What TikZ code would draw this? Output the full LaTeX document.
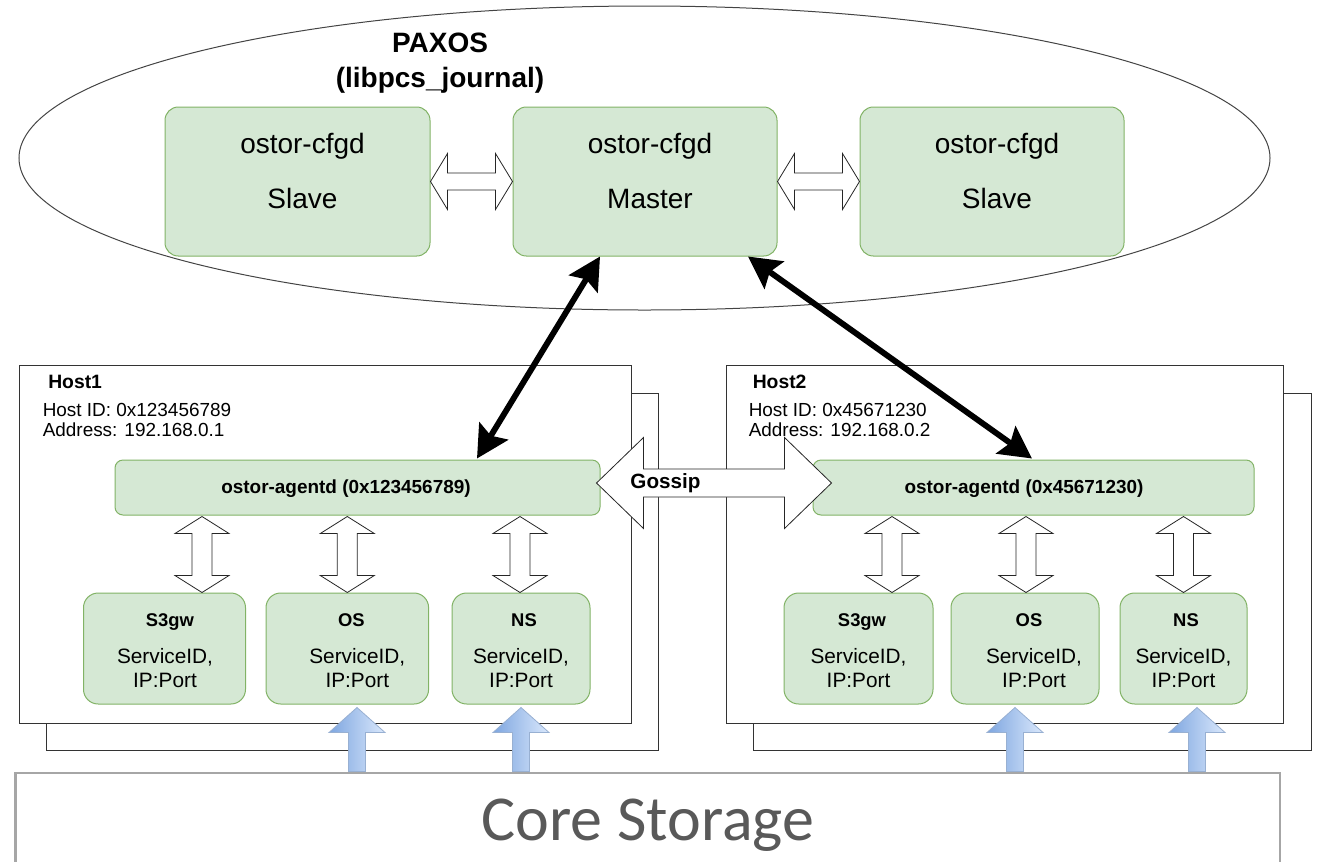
\documentclass[tikz,border=0pt]{standalone}
\usepackage{fontspec}
\setmainfont{Liberation Sans}
\newfontfamily\corefont{Carlito}
\usetikzlibrary{calc,arrows.meta,shapes.geometric}

\definecolor{boxfill}{HTML}{D5E8D4}
\definecolor{boxline}{HTML}{82B366}
\definecolor{hostline}{HTML}{333333}
\definecolor{ellline}{HTML}{444444}
\definecolor{coreline}{HTML}{A6A6A6}
\definecolor{coretext}{HTML}{595959}
\definecolor{bluedark}{HTML}{7EA6E0}
\definecolor{bluelight}{HTML}{DAE8FC}
\definecolor{blueline}{HTML}{6C8EBF}

% hollow double arrow, horizontal: start, end, half shaft, half head, head length (px)
\newcommand\hollowH[5]{%
  \draw[hollow] let \p1=#1, \p2=#2 in
    (\x1,\y1) -- (\x1+#5*0.75pt,\y1+#4*0.75pt) -- (\x1+#5*0.75pt,\y1+#3*0.75pt)
    -- (\x2-#5*0.75pt,\y1+#3*0.75pt) -- (\x2-#5*0.75pt,\y1+#4*0.75pt) -- (\x2,\y1)
    -- (\x2-#5*0.75pt,\y1-#4*0.75pt) -- (\x2-#5*0.75pt,\y1-#3*0.75pt)
    -- (\x1+#5*0.75pt,\y1-#3*0.75pt) -- (\x1+#5*0.75pt,\y1-#4*0.75pt) -- cycle;}
% hollow double arrow, vertical: top point, bottom point (y only)
\newcommand\hollowV[5]{%
  \draw[hollow] let \p1=#1, \p2=#2 in
    (\x1,\y1) -- (\x1+#4*0.75pt,\y1-#5*0.75pt) -- (\x1+#3*0.75pt,\y1-#5*0.75pt)
    -- (\x1+#3*0.75pt,\y2+#5*0.75pt) -- (\x1+#4*0.75pt,\y2+#5*0.75pt) -- (\x1,\y2)
    -- (\x1-#4*0.75pt,\y2+#5*0.75pt) -- (\x1-#3*0.75pt,\y2+#5*0.75pt)
    -- (\x1-#3*0.75pt,\y1-#5*0.75pt) -- (\x1-#4*0.75pt,\y1-#5*0.75pt) -- cycle;}
% shaded block arrow pointing up: foot point, tip point (y only)
\newcommand\blueUp[5]{%
  \draw[bluearrow] let \p1=#1, \p2=#2 in
    (\x1-#3*0.75pt,\y1) -- (\x1-#3*0.75pt,\y2-#5*0.75pt) -- (\x1-#4*0.75pt,\y2-#5*0.75pt)
    -- (\x1,\y2) -- (\x1+#4*0.75pt,\y2-#5*0.75pt) -- (\x1+#3*0.75pt,\y2-#5*0.75pt)
    -- (\x1+#3*0.75pt,\y1) -- cycle;}
% service box with its three text lines
\newcommand\service[6]{%
  \node[svcbox, boxsize={#3}{111}] (#1) at (#2,648.5) {};
  \node[svclabel] (#1-label) at ($(#1.center)+(#5,-22.5)$) {#4};
  \node[svctext] (#1-id) at ($(#1.center)+(#6,14.5)$) {ServiceID,};
  \node[svctext] (#1-ip) at ($(#1.center)+(#6,38.5)$) {IP:Port};}

\begin{document}
\begin{tikzpicture}[x=0.75pt,y=-0.75pt,
  boxsize/.style 2 args={minimum width=#1*0.75pt, minimum height=#2*0.75pt},
  cfgdbox/.style={draw=boxline, fill=boxfill, line width=0.75pt, rounded corners=10pt, inner sep=0pt},
  agentbox/.style={draw=boxline, fill=boxfill, line width=0.75pt, rounded corners=6pt, inner sep=0pt},
  svcbox/.style={draw=boxline, fill=boxfill, line width=0.75pt, rounded corners=11pt, inner sep=0pt},
  hostbox/.style={draw=hostline, fill=white, line width=0.75pt, inner sep=0pt},
  corebox/.style={draw=coreline, fill=white, line width=2.2pt, inner sep=0pt},
  hollow/.style={draw=black!85, fill=white, line width=0.6pt, line join=miter},
  bluearrow/.style={draw=blueline!70, line width=0.6pt, left color=bluedark, right color=bluelight},
  bigarrow/.style={line width=4.4pt,
    {Stealth[length=24pt,width=25pt,inset=4pt]}-{Stealth[length=24pt,width=25pt,inset=4pt]}},
  title/.style={font=\bfseries\fontsize{21}{25}\selectfont, anchor=base, inner sep=0pt},
  cfgdtxt/.style={font=\fontsize{21}{25}\selectfont, anchor=base, inner sep=0pt},
  hosttitle/.style={font=\bfseries\fontsize{14.5}{17}\selectfont, anchor=base west, inner sep=0pt},
  hostinfo/.style={font=\fontsize{14.2}{17}\selectfont, anchor=base west, inner sep=0pt},
  agenttxt/.style={font=\bfseries\fontsize{14.2}{17}\selectfont, anchor=base, inner sep=0pt},
  gossiptxt/.style={font=\bfseries\fontsize{15.5}{18}\selectfont, anchor=base, inner sep=0pt},
  svclabel/.style={font=\bfseries\fontsize{13.8}{16}\selectfont, anchor=base, inner sep=0pt},
  svctext/.style={font=\fontsize{15.6}{18}\selectfont, anchor=base, inner sep=0pt},
  coretxt/.style={font=\corefont\fontsize{48}{57}\selectfont, text=coretext, anchor=base, inner sep=0pt}]

\useasboundingbox (0,0) rectangle (1327,861);

% ---- PAXOS group ----
\node[draw=ellline, ellipse, line width=0.75pt, inner sep=0pt, boxsize={1251}{304}] (paxos) at (644.5,158) {};
\node[title] (paxosname) at (440,52) {PAXOS};
\node[title] (journal) at (440,87) {(libpcs\_journal)};

\node[cfgdbox, boxsize={265}{149}] (slaveL) at (297.5,181.5) {};
\node[cfgdbox, boxsize={264}{149}] (master) at (645,181.5) {};
\node[cfgdbox, boxsize={264}{149}] (slaveR) at (992,181.5) {};
\foreach \b/\role in {slaveL/Slave, master/Master, slaveR/Slave}{
  \node[cfgdtxt] (\b-name) at ($(\b.center)+(5,-28.5)$) {ostor-cfgd};
  \node[cfgdtxt] (\b-role) at ($(\b.center)+(5,26.5)$) {\role};
}
\hollowH{(slaveL.east)}{(master.west)}{8.5}{28}{17}
\hollowH{(master.east)}{(slaveR.west)}{8.5}{28}{17}

% ---- hosts ----
\node[hostbox, boxsize={612.5}{357}] (host1back) at (352.25,571.5) {};
\node[hostbox, boxsize={611.5}{358}] (host1) at (325.25,544) {};
\node[hostbox, boxsize={558}{357}] (host2back) at (1032,571.5) {};
\node[hostbox, boxsize={557.5}{358}] (host2) at (1004.75,544) {};

\node[hosttitle] (host1name) at ($(host1.north west)+(29,24)$) {Host1};
\node[hostinfo] (host1id) at ($(host1.north west)+(23.5,52)$) {Host ID: 0x123456789};
\node[hostinfo] (host1addr) at ($(host1.north west)+(23.5,72)$) {Address: 192.168.0.1};
\node[hosttitle] (host2name) at ($(host2.north west)+(27,24)$) {Host2};
\node[hostinfo] (host2id) at ($(host2.north west)+(23,52)$) {Host ID: 0x45671230};
\node[hostinfo] (host2addr) at ($(host2.north west)+(23,72)$) {Address: 192.168.0.2};

\node[agentbox, boxsize={485}{55}] (agentd1) at (357.5,487.5) {};
\node[agenttxt] (agentd1-name) at ($(agentd1.center)+(-11.5,5.5)$) {ostor-agentd (0x123456789)};
\node[agentbox, boxsize={441}{55}] (agentd2) at (1033.5,487.5) {};
\node[agenttxt] (agentd2-name) at ($(agentd2.center)+(-9.5,5.5)$) {ostor-agentd (0x45671230)};

\service{s3gw1}{164.5}{162}{S3gw}{5.5}{0.5}
\service{os1}{347.3}{162.6}{OS}{4}{10}
\service{ns1}{521}{138}{NS}{3}{0}
\service{s3gw2}{858.5}{149}{S3gw}{3.5}{0}
\service{os2}{1025}{148}{OS}{4}{9}
\service{ns2}{1183.5}{127}{NS}{2.5}{0}

\hollowV{($(agentd1.south -| s3gw1.north)+(37.5,1)$)}{(s3gw1.north)}{10}{27}{17}
\hollowV{($(agentd1.south -| os1.north)+(0,1)$)}{(os1.north)}{10}{27}{17}
\hollowV{($(agentd1.south -| ns1.north)+(-1,1)$)}{(ns1.north)}{10}{27}{17}
\hollowV{($(agentd2.south -| s3gw2.north)+(33.5,1)$)}{(s3gw2.north)}{10}{27}{17}
\hollowV{($(agentd2.south -| os2.north)+(1,1)$)}{(os2.north)}{10}{27}{17}
\hollowV{($(agentd2.south -| ns2.north)+(0,1)$)}{(ns2.north)}{10}{27}{17}

% ---- gossip between agents ----
\hollowH{($(agentd1.east)+(-4,-4.5)$)}{($(agentd2.west)+(19,0)$)}{14}{45.5}{47}
\node[gossiptxt] (gossip) at ($(agentd1.east)+(65,0.5)$) {Gossip};

% ---- master <-> agents ----
\draw[bigarrow] ($(master.south)+(-45,0)$) -- ($(agentd1.north)+(119.5,-1)$);
\draw[bigarrow] ($(master.south)+(103,0)$) -- ($(agentd2.north)+(-1.5,-1)$);

% ---- core storage ----
\node[corebox, boxsize={1264.4}{114}] (core) at (647.8,830) {};
\node[coretxt] (corename) at (648,840) {Core Storage};

\blueUp{($(core.north -| os1.south)+(9.7,0)$)}{($(os1.south)+(0,3)$)}{8.5}{28}{25}
\blueUp{($(core.north -| ns1.south)+(0,0)$)}{($(ns1.south)+(0,3)$)}{8.5}{28}{25}
\blueUp{($(core.north -| os2.south)+(-10,0)$)}{($(os2.south)+(0,3)$)}{8.5}{28}{25}
\blueUp{($(core.north -| ns2.south)+(13.5,0)$)}{($(ns2.south)+(0,3)$)}{8.5}{28}{25}
\end{tikzpicture}
\end{document}
